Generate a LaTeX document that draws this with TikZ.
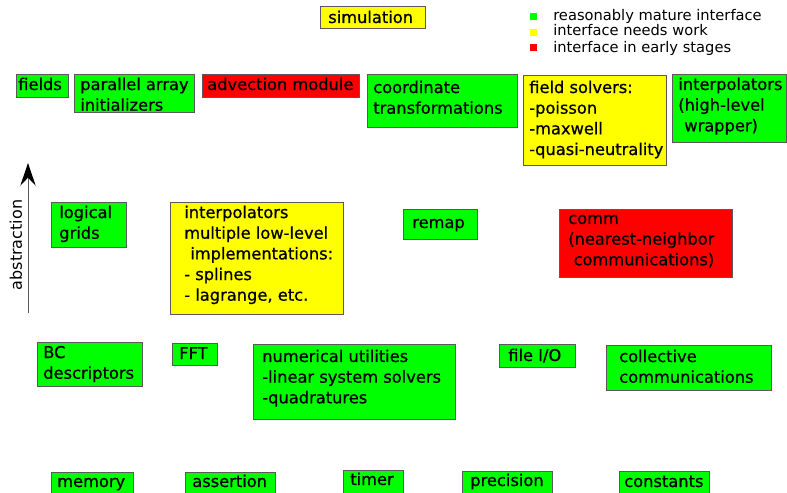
\documentclass[tikz,border=0pt]{standalone}
\usepackage{fontspec}
\setmainfont{DejaVu Sans}[FakeBold=0.7]
\newfontfamily\legendfont{DejaVu Sans}
\usetikzlibrary{arrows.meta}

\definecolor{mature}{RGB}{0,255,0}
\definecolor{needswork}{RGB}{255,255,0}
\definecolor{early}{RGB}{255,0,0}
\definecolor{edge}{RGB}{90,90,90}

\tikzset{
  box/.style={draw=edge, line width=0.75pt},
  greenbox/.style={box, fill=mature},
  yellowbox/.style={box, fill=needswork},
  redbox/.style={box, fill=early},
  lbl/.style={anchor=base west, inner sep=0pt, align=left, font=\fontsize{12.2}{15.5}\selectfont},
  leg/.style={anchor=base west, inner sep=0pt, font=\legendfont\fontsize{11}{13}\selectfont},
}

\begin{document}
\begin{tikzpicture}[x=0.75pt,y=0.75pt,yscale=-1,xscale=1]
\useasboundingbox (0,0) rectangle (787,492);
\clip (0,0) rectangle (787,492);

%Legend
\fill [mature] (530,13) rectangle (537,20) ;
\fill [needswork] (530,29) rectangle (537,36) ;
\fill [early] (530,44) rectangle (537,51) ;
\node [leg] (legmature) at (553,21) {reasonably mature interface};
\node [leg] (legwork) at (553,36) {interface needs work};
\node [leg] (legearly) at (553,52) {interface in early stages};

%Shape: Rectangle
\draw [yellowbox] (320,7) rectangle (425,29) ;
% Text Node
\node [lbl] (simulation) at (328,23) {simulation};

%Top row (base = last line)
\draw [greenbox] (16,74) rectangle (68,97) ;
\node [lbl] (fields) at (18,90) {fields};
\draw [greenbox] (74,74) rectangle (194,112) ;
\node [lbl] (parinit) at (80,110.7) {parallel array\\initializers};
\draw [redbox] (202,74) rectangle (359,97) ;
\node [lbl] (advection) at (207,90) {advection module};
\draw [greenbox] (367,74) rectangle (517,127) ;
\node [lbl] (coordtrans) at (373,113.7) {coordinate\\transformations};
\draw [yellowbox] (523,75) rectangle (666,165) ;
\node [lbl] (fieldsolvers) at (529,155) {field solvers:\\-poisson\\-maxwell\\-quasi-neutrality};
\draw [greenbox] (672,74) rectangle (786,142) ;
\node [lbl] (interphigh) at (678,131.3) {interpolators\\(high-level\\\hspace*{4.5pt}wrapper)};

%Abstraction axis
\coordinate (axisbot) at (28,313);
\coordinate (axistop) at (28,163);
\draw [color=edge, line width=0.75pt, -{Stealth[length=17pt,width=11.5pt,inset=6pt,color=black]}] (axisbot) -- (axistop) ;
\node [rotate=90, inner sep=0pt, font=\legendfont\fontsize{12}{14}\selectfont] (abstraction) at (16,245) {abstraction};

%Middle row
\draw [greenbox] (51,202) rectangle (126,247) ;
\node [lbl] (logical) at (59,238.7) {logical\\grids};
\draw [yellowbox] (170,202) rectangle (343,314) ;
\node [lbl] (interplow) at (184,300.7) {interpolators\\multiple low-level\\\hspace*{4.5pt}implementations:\\- splines\\- lagrange, etc.};
\draw [greenbox] (403,209) rectangle (477,239) ;
\node [lbl] (remap) at (412,228) {remap};
\draw [redbox] (559,209) rectangle (732,277) ;
\node [lbl] (comm) at (568,265.3) {comm\\(nearest-neighbor\\\hspace*{4pt}communications)};

%Lower row
\draw [greenbox] (37,342) rectangle (142,386) ;
\node [lbl] (bcdesc) at (43,378.7) {BC\\descriptors};
\draw [greenbox] (172,343) rectangle (217,365) ;
\node [lbl] (fft) at (179,359) {FFT};
\draw [greenbox] (253,344) rectangle (455,419) ;
\node [lbl] (numutil) at (262,403.3) {numerical utilities\\-linear system solvers\\-quadratures};
\draw [greenbox] (499,344) rectangle (575,367) ;
\node [lbl] (fileio) at (508,361) {file I/O};
\draw [greenbox] (606,345) rectangle (771,390) ;
\node [lbl] (collective) at (619,382.7) {collective\\communications};

%Bottom row
\draw [greenbox] (51,472) rectangle (133,500) ;
\node [lbl] (memory) at (57,487) {memory};
\draw [greenbox] (185,472) rectangle (275,500) ;
\node [lbl] (assertion) at (192,487) {assertion};
\draw [greenbox] (343,470) rectangle (403,500) ;
\node [lbl] (timer) at (350,485) {timer};
\draw [greenbox] (462,471) rectangle (552,500) ;
\node [lbl] (precision) at (470,486) {precision};
\draw [greenbox] (619,471) rectangle (709,500) ;
\node [lbl] (constants) at (624,487) {constants};

\end{tikzpicture}
\end{document}
